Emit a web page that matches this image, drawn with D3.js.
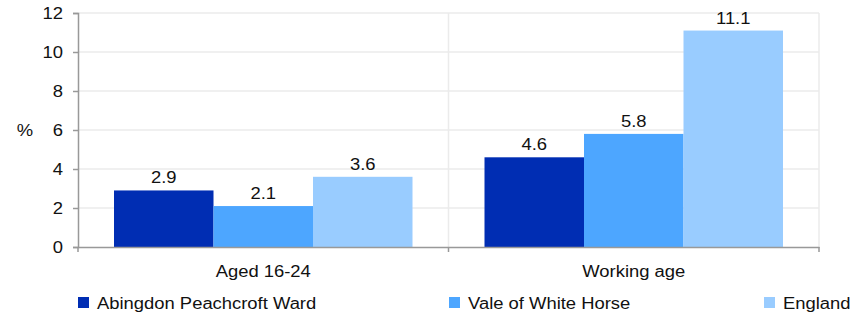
<!DOCTYPE html>
<html>
<head>
<meta charset="utf-8">
<script src="https://cdn.jsdelivr.net/npm/d3@7"></script>
<style>
  body { margin: 0; background: #fff; }
  text { font-family: "Liberation Sans", Arial, sans-serif; fill: #111; }
</style>
</head>
<body>
<div class="viz"></div>
<script>
const width = 863;
const height = 313;

// data
const categories = ["Aged 16-24", "Working age"];
const seriesNames = ["Abingdon Peachcroft Ward", "Vale of White Horse", "England"];
const ward = [2.9, 4.6];
const vale = [2.1, 5.8];
const england = [3.6, 11.1];
const yTicks = [0, 2, 4, 6, 8, 10, 12];
const colors = ["#002db3", "#4da6ff", "#99ccff"];

const seriesValues = [ward, vale, england];

const margin = { top: 13, right: 44, bottom: 66, left: 78 };
const plotW = width - margin.left - margin.right;
const plotH = height - margin.top - margin.bottom;

const svg = d3.select(".viz")
    .append("svg")
    .attr("width", width)
    .attr("height", height);

const g = svg.append("g").attr("transform", `translate(${margin.left},${margin.top})`);

const x0 = d3.scaleBand().domain(categories).range([0, plotW]).paddingInner(0).paddingOuter(0);
const x1 = d3.scaleBand().domain(seriesNames).range([36, x0.bandwidth() - 36]);
const y = d3.scaleLinear().domain([0, 12]).range([plotH, 0]);

// gridlines
g.selectAll(".hgrid")
    .data(yTicks.filter(d => d > 0))
    .enter().append("line")
    .attr("x1", 0).attr("x2", plotW)
    .attr("y1", d => y(d)).attr("y2", d => y(d))
    .attr("stroke", "#ebebeb").attr("stroke-width", 1.5);

g.selectAll(".vgrid")
    .data(categories)
    .enter().append("line")
    .attr("x1", d => x0(d) + x0.bandwidth()).attr("x2", d => x0(d) + x0.bandwidth())
    .attr("y1", 0).attr("y2", plotH)
    .attr("stroke", "#ebebeb").attr("stroke-width", 1.5);

// bars
const groups = g.selectAll(".grp")
    .data(categories)
    .enter().append("g")
    .attr("transform", d => `translate(${x0(d)},0)`);

groups.each(function (cat, ci) {
    const grp = d3.select(this);
    seriesNames.forEach((s, si) => {
        const v = seriesValues[si][ci];
        grp.append("rect")
            .attr("x", x1(s))
            .attr("y", y(v))
            .attr("width", x1.bandwidth())
            .attr("height", plotH - y(v))
            .attr("fill", colors[si]);
        grp.append("text")
            .attr("x", x1(s) + x1.bandwidth() / 2)
            .attr("y", y(v) - 7)
            .attr("text-anchor", "middle")
            .style("font-size", "16px")
            .text(v.toFixed(1));
    });
});

// y axis
const yAxis = g.append("g")
    .call(d3.axisLeft(y).tickValues(yTicks).tickSize(5).tickPadding(10));
yAxis.select(".domain").attr("stroke", "#999").attr("stroke-width", 1.5);
yAxis.selectAll(".tick line").attr("stroke", "#999").attr("stroke-width", 1.5);
yAxis.selectAll("text").style("font-size", "16px").attr("fill", "#111");

// x axis
const xAxis = g.append("g")
    .attr("transform", `translate(0,${plotH})`)
    .call(d3.axisBottom(x0).tickSize(0).tickPadding(19));
xAxis.select(".domain").attr("stroke", "#999").attr("stroke-width", 1.5);
xAxis.selectAll("text").style("font-size", "16px").attr("fill", "#111");
xAxis.selectAll(".xt")
    .data([0, ...categories.map(c => x0(c) + x0.bandwidth())])
    .enter().append("line")
    .attr("x1", d => d).attr("x2", d => d)
    .attr("y1", 0).attr("y2", 5)
    .attr("stroke", "#999").attr("stroke-width", 1.5);

// % label
svg.append("text")
    .attr("x", 25).attr("y", 136)
    .attr("text-anchor", "middle")
    .style("font-size", "16px")
    .text("%");

// legend
const legendX = [78, 449, 764];
const legend = svg.selectAll(".leg")
    .data(seriesNames)
    .enter().append("g")
    .attr("transform", (d, i) => `translate(${legendX[i]},297)`);
legend.append("rect")
    .attr("width", 11).attr("height", 11)
    .attr("fill", (d, i) => colors[i]);
legend.append("text")
    .attr("x", 19).attr("y", 11.5)
    .style("font-size", "16px")
    .text(d => d);

// the original text is a bit wider than Liberation Sans, stretch it
svg.selectAll("text").each(function () {
    const w = this.getComputedTextLength();
    d3.select(this).attr("textLength", w * 1.15).attr("lengthAdjust", "spacingAndGlyphs");
});
</script>
</body>
</html>
